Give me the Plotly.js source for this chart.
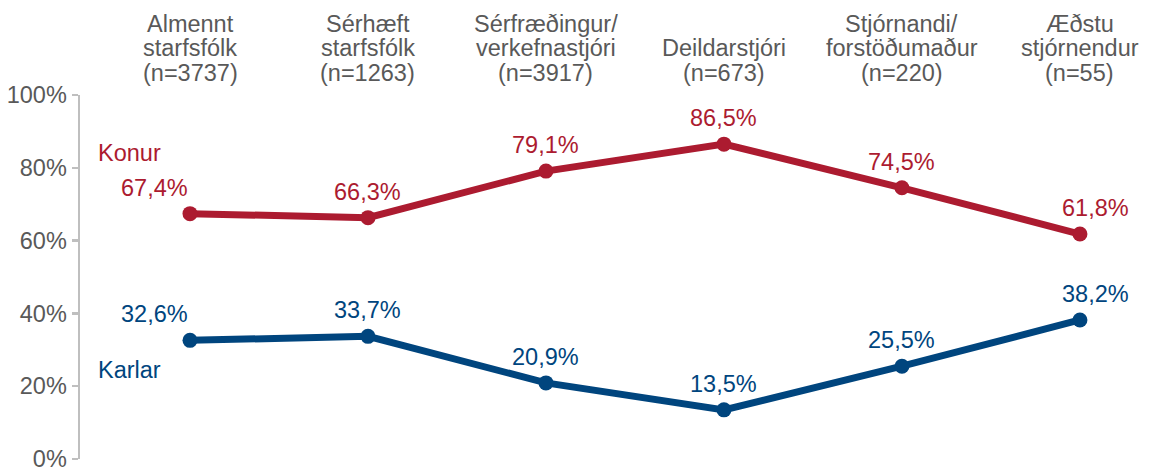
<!DOCTYPE html>
<html>
<head>
<meta charset="utf-8">
<script src="https://cdn.plot.ly/plotly-3.0.1.min.js"></script>
<style>html,body{margin:0;padding:0;background:#fff;}#chart{width:1149px;height:471px;}</style>
</head>
<body>
<div id="chart"></div>
<script>
// Data
const categoryLines = [
  ["Almennt", "starfsfólk"],
  ["Sérhæft", "starfsfólk"],
  ["Sérfræðingur/", "verkefnastjóri"],
  ["Deildarstjóri"],
  ["Stjórnandi/", "forstöðumaður"],
  ["Æðstu", "stjórnendur"]
];
const nCounts = [3737, 1263, 3917, 673, 220, 55];
const konur = [0.674, 0.663, 0.791, 0.865, 0.745, 0.618];
const karlar = [0.326, 0.337, 0.209, 0.135, 0.255, 0.382];
const seriesNames = ["Konur", "Karlar"];
const yTickVals = [0, 0.2, 0.4, 0.6, 0.8, 1.0];
const yTickText = ["0%", "20%", "40%", "60%", "80%", "100%"];

const categories = categoryLines.map(l => l.join(" "));
const RED = "#AC1B30";
const BLUE = "#00457E";
const GREY = "#595959";
const FONT = "Liberation Sans, Arial, sans-serif";
const FS = 23.5;

function fmt(v) { return (v * 100).toFixed(1).replace(".", ",") + "%"; }

const traces = [
  { x: categories, y: konur, name: seriesNames[0], type: "scatter", mode: "lines+markers",
    line: { color: RED, width: 7 }, marker: { color: RED, size: 15 }, cliponaxis: false, hoverinfo: "skip" },
  { x: categories, y: karlar, name: seriesNames[1], type: "scatter", mode: "lines+markers",
    line: { color: BLUE, width: 7 }, marker: { color: BLUE, size: 15 }, cliponaxis: false, hoverinfo: "skip" }
];

const annotations = [];
// value labels
[[konur, RED], [karlar, BLUE]].forEach(([vals, col]) => {
  vals.forEach((v, i) => {
    let xs = 0;
    if (i === 0) xs = -36;
    if (i === vals.length - 1) xs = 16;
    annotations.push({ x: categories[i], y: v, xref: "x", yref: "y", text: fmt(v), showarrow: false,
      xanchor: "center", yanchor: "middle", xshift: xs, yshift: 26,
      font: { family: FONT, size: FS, color: col } });
  });
});
// series name labels
annotations.push({ xref: "paper", yref: "y", x: 0.015, y: 0.84, xanchor: "left", yanchor: "middle",
  text: seriesNames[0], showarrow: false, font: { family: FONT, size: FS, color: RED } });
annotations.push({ xref: "paper", yref: "y", x: 0.015, y: 0.245, xanchor: "left", yanchor: "middle",
  text: seriesNames[1], showarrow: false, font: { family: FONT, size: FS, color: BLUE } });
// category header labels (one annotation per line, tight line spacing)
const lineCenters = [23.5, 48, 72.5]; // px from top of page
const plotTop = 95;
categoryLines.forEach((lines, i) => {
  const all = lines.concat(["(n=" + nCounts[i] + ")"]);
  const offset = 3 - all.length;
  all.forEach((t, j) => {
    annotations.push({ x: categories[i], y: 1, xref: "x", yref: "paper", text: t, showarrow: false,
      xanchor: "center", yanchor: "middle", yshift: plotTop - lineCenters[j + offset],
      font: { family: FONT, size: FS, color: GREY } });
  });
});

const layout = {
  width: 1149, height: 471,
  margin: { l: 80, r: 0, t: 95, b: 12, pad: 0 },
  paper_bgcolor: "#fff", plot_bgcolor: "#fff",
  showlegend: false,
  font: { family: FONT, size: FS, color: GREY },
  xaxis: { type: "category", range: [-0.618, 5.388], showline: false, showgrid: false, zeroline: false,
    showticklabels: false, ticks: "", fixedrange: true },
  yaxis: { range: [0, 1], tickvals: yTickVals, ticktext: yTickText, showgrid: false, zeroline: false,
    showline: true, linecolor: "#BFBFBF", linewidth: 2.5, ticks: "outside", ticklen: 6, tickwidth: 2.5,
    tickcolor: "#BFBFBF", ticklabelstandoff: 0, ticklabeloverflow: "allow",
    tickfont: { family: FONT, size: FS, color: GREY }, fixedrange: true },
  annotations: annotations
};

Plotly.newPlot("chart", traces, layout, { staticPlot: true, displayModeBar: false });
</script>
</body>
</html>
